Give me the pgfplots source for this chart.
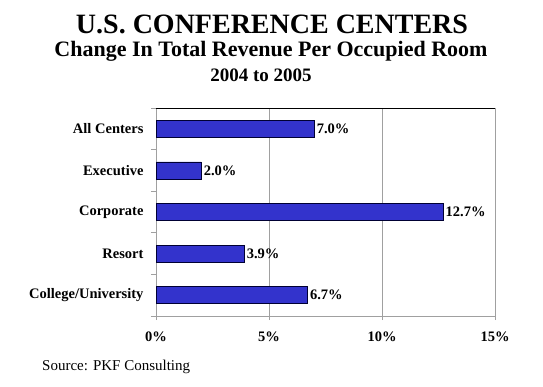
\documentclass[border=0pt]{standalone}
\usepackage{pgfplots}
\pgfplotsset{compat=1.18}
\usepackage{fontspec}
\setmainfont{Liberation Serif}
\definecolor{barblue}{HTML}{3333CC}
\definecolor{gridgray}{HTML}{A0A0A0}
\begin{document}
\begin{tikzpicture}
\path (0pt,0pt) rectangle (543pt,386pt);
\node[inner sep=0pt,font=\bfseries\fontsize{28}{30}\selectfont] at (272pt,362pt) {U.S. CONFERENCE CENTERS};
\node[inner sep=0pt,font=\bfseries\fontsize{22}{24}\selectfont] at (271pt,335pt) {Change In Total Revenue Per Occupied Room};
\node[inner sep=0pt,font=\bfseries\fontsize{19}{21}\selectfont] at (261pt,311pt) {2004 to 2005};
\node[inner sep=0pt,anchor=west,font=\fontsize{15}{17}\selectfont] at (42pt,19pt) {Source: PKF Consulting};
\begin{axis}[
  at={(156pt,70pt)}, anchor=south west,
  scale only axis, width=339pt, height=208pt,
  xbar, bar width=17pt,
  xmin=0, xmax=15, ymin=0.5, ymax=5.5,
  xtick={0,5,10,15},
  xticklabels={0\%,5\%,10\%,15\%},
  ytick={1,2,3,4,5},
  yticklabels={College/University,Resort,Corporate,Executive,All Centers},
  minor ytick={0.5,1.5,2.5,3.5,4.5,5.5},
  ytick pos=left, xtick pos=bottom,
  tick align=outside,
  major tick length=4pt,
  minor tick length=5pt,
  ytick style={draw=none},
  minor y tick style={draw=gridgray,line width=0.8pt},
  xtick style={draw=gridgray,line width=0.8pt},
  xmajorgrids, grid style={gridgray,line width=0.8pt},
  axis line style={gridgray,line width=0.8pt},
  tick label style={font=\bfseries\fontsize{14.5}{16}\selectfont},
  /pgf/number format/assume math mode=true,
  yticklabel style={xshift=-5pt},
  xticklabel style={yshift=-8pt},
  nodes near coords={\pgfmathprintnumber[fixed,fixed zerofill,precision=1]{\pgfplotspointmeta}\%},
  nodes near coords style={font=\bfseries\fontsize{14.5}{16}\selectfont,black,xshift=-1pt},
  clip=false,
]
\addplot[fill=barblue,draw=black!80!blue,line width=0.6pt] coordinates {(6.7,1) (3.9,2) (12.7,3) (2.0,4) (7.0,5)};
\draw[black,line width=1pt] (rel axis cs:0,1) -- (rel axis cs:1,1);
\end{axis}
\end{tikzpicture}
\end{document}
